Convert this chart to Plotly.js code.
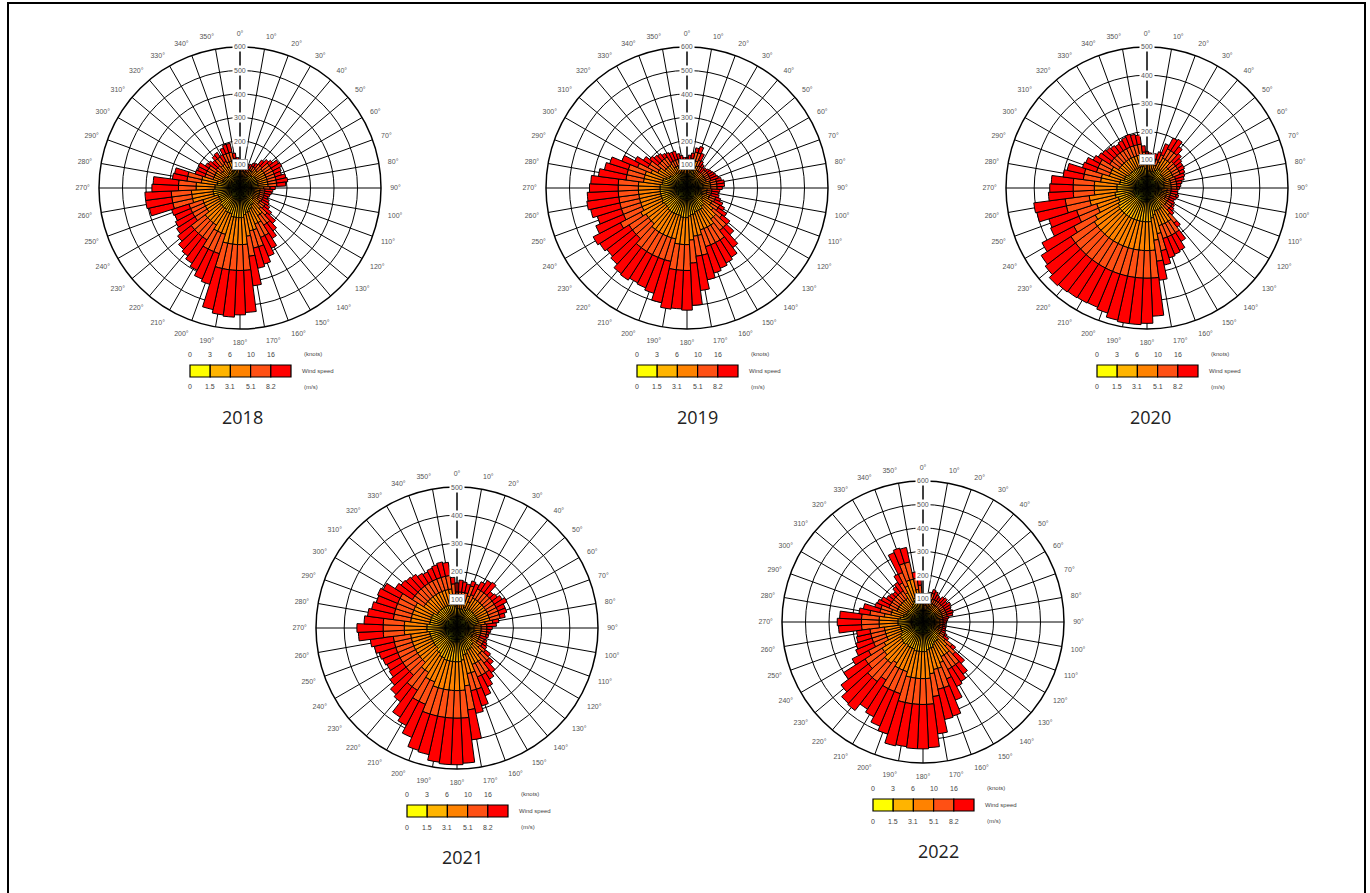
<!DOCTYPE html>
<html>
<head>
<meta charset="utf-8">
<script src="https://cdn.plot.ly/plotly-3.0.1.min.js"></script>
<style>html,body{margin:0;padding:0;background:#fff;}#chart{width:1370px;height:893px;}</style>
</head>
<body>
<div id="chart"></div>
<script>
// ---------------- DATA ----------------
const dirs = [0,5,10,15,20,25,30,35,40,45,50,55,
  60,65,70,75,80,85,90,95,100,105,110,115,
  120,125,130,135,140,145,150,155,160,165,170,175,
  180,185,190,195,200,205,210,215,220,225,230,235,
  240,245,250,255,260,265,270,275,280,285,290,295,
  300,305,310,315,320,325,330,335,340,345,350,355];

const angleTicks = [0,10,20,30,40,50,60,70,80,90,100,110,120,130,140,150,160,170,180,190,200,210,220,230,240,250,260,270,280,290,300,310,320,330,340,350];
const angleLabels = ['0°','10°','20°','30°','40°','50°','60°','70°','80°','90°','100°','110°','120°','130°','140°','150°','160°','170°','180°','190°','200°','210°','220°','230°','240°','250°','260°','270°','280°','290°','300°','310°','320°','330°','340°','350°'];

const years = ['2018','2019','2020','2021','2022'];
const radialMax = [600,600,500,500,600];
const knotsLabels = ['0','3','6','10','16'];
const msLabels = ['0','1.5','3.1','5.1','8.2'];
const speedClasses = ['0-1.5 m/s','1.5-3.1 m/s','3.1-5.1 m/s','5.1-8.2 m/s','>8.2 m/s'];

// 2018
const yellow2018 = [28,28,28,28,28,28,33,33,36,36,39,39,
  39,39,39,39,39,39,36,33,33,33,33,33,
  33,36,36,39,41,41,44,44,47,47,50,50,
  50,50,50,50,50,50,50,47,47,47,47,44,
  44,44,44,50,50,50,47,47,44,44,39,39,
  39,39,36,36,39,39,36,39,39,39,36,33];
const gold2018 = [24,24,24,24,24,24,28,28,33,33,39,39,
  39,39,39,39,39,39,33,28,28,28,28,28,
  28,33,33,39,45,45,54,54,60,60,65,76,
  76,76,76,76,65,65,65,60,60,60,60,54,
  54,54,54,65,65,65,60,60,54,54,39,39,
  39,39,33,33,39,39,33,39,39,39,33,28];
const orange2018 = [20,20,20,20,20,20,25,25,32,32,42,42,
  42,42,42,42,42,42,32,25,25,25,25,25,
  25,32,32,42,54,54,68,68,80,80,92,115,
  115,115,115,115,92,92,92,80,80,80,80,68,
  68,68,68,92,92,92,80,80,68,68,42,42,
  42,42,32,32,42,42,32,42,42,42,32,25];
const orangered2018 = [14,14,14,14,14,14,20,20,27,27,37,37,
  37,37,37,37,37,37,27,20,20,20,20,20,
  20,27,27,37,48,48,62,62,75,75,86,110,
  110,110,110,110,86,86,86,75,75,75,75,62,
  62,62,62,86,86,86,75,75,62,62,37,37,
  37,37,27,27,37,37,27,37,37,37,27,20];
const red2018 = [24,9,4,14,19,24,14,19,22,37,18,38,
  43,33,28,43,48,38,22,34,29,24,19,29,
  34,22,42,48,42,67,62,87,78,88,127,179,
  189,199,194,179,137,127,102,118,103,93,73,92,
  82,72,77,102,112,112,113,108,62,57,43,38,
  43,18,42,32,18,23,32,28,38,38,22,24];

// 2019
const yellow2019 = [33,33,36,39,39,36,33,33,28,33,33,33,
  33,33,33,36,36,36,36,33,33,33,36,36,
  39,39,41,44,44,47,47,47,47,50,50,50,
  50,50,50,50,50,50,50,50,50,50,50,50,
  50,50,50,50,50,50,50,50,47,47,47,44,
  41,41,39,39,39,39,36,36,36,36,33,33];
const gold2019 = [28,28,33,39,39,33,28,28,24,28,28,28,
  28,28,28,33,33,33,33,28,28,28,33,33,
  39,39,45,54,54,60,60,60,60,65,65,70,
  76,76,76,70,70,70,70,70,70,65,65,65,
  70,65,65,65,65,65,65,65,60,60,60,54,
  45,45,39,39,39,39,33,33,33,33,28,28];
const orange2019 = [25,25,32,42,42,32,25,25,20,25,25,25,
  25,25,25,32,32,32,32,25,25,25,32,32,
  42,42,54,68,68,80,80,80,80,92,92,102,
  115,115,115,102,102,102,102,102,102,92,92,92,
  102,92,92,92,92,92,92,92,80,80,80,68,
  54,54,42,42,42,42,32,32,32,32,25,25];
const orangered2019 = [20,20,27,37,37,27,20,20,14,20,20,20,
  20,20,20,27,27,27,27,20,20,20,27,27,
  37,37,48,62,62,75,75,75,75,86,86,98,
  110,110,110,98,98,98,98,98,98,86,86,86,
  98,86,86,86,86,86,86,86,75,75,75,62,
  48,48,37,37,37,37,27,27,27,27,20,20];
const red2019 = [24,34,22,18,28,32,24,14,24,9,14,19,
  24,29,34,22,32,32,22,34,29,34,22,37,
  23,43,42,42,92,88,98,108,118,107,147,180,
  169,164,169,180,150,140,135,145,140,147,137,147,
  130,127,107,127,137,132,122,117,118,98,83,72,
  62,32,43,33,28,18,42,37,37,22,34,24];

// 2020
const yellow2020 = [33,33,33,33,33,36,39,39,39,36,36,36,
  36,36,33,33,33,33,33,28,28,33,28,28,
  28,33,33,33,39,41,41,41,41,44,47,50,
  50,50,50,50,50,50,50,50,50,50,50,50,
  50,47,47,50,50,47,47,47,44,44,41,41,
  41,39,39,39,39,39,39,39,39,39,39,36];
const gold2020 = [28,28,28,28,28,33,39,39,39,33,33,33,
  33,33,28,28,28,28,28,24,24,28,24,24,
  24,28,28,28,39,45,45,45,45,54,60,70,
  70,70,70,70,70,70,70,70,70,70,70,70,
  65,60,60,65,65,60,60,60,54,54,45,45,
  45,39,39,39,39,39,39,39,39,39,39,33];
const orange2020 = [25,25,25,25,25,32,42,42,42,32,32,32,
  32,32,25,25,25,25,25,20,20,25,20,20,
  20,25,25,25,42,54,54,54,54,68,80,102,
  102,102,102,102,102,102,102,102,102,102,102,102,
  92,80,80,92,92,80,80,80,68,68,54,54,
  54,42,42,42,42,42,42,42,42,42,42,32];
const orangered2020 = [20,20,20,20,20,27,37,37,37,27,27,27,
  27,27,20,20,20,20,20,14,14,20,14,14,
  14,20,20,20,37,48,48,48,48,62,75,98,
  98,98,98,98,98,98,98,98,98,98,98,98,
  86,75,75,86,86,75,75,75,62,62,48,48,
  48,37,37,37,37,37,37,37,37,37,37,27];
const red2020 = [24,19,14,19,29,42,43,48,28,37,27,22,
  22,17,34,29,19,14,9,24,24,9,24,19,
  24,9,14,24,18,37,62,67,72,52,68,135,
  160,165,165,160,145,138,140,142,145,150,135,125,
  127,108,103,107,112,88,83,78,72,62,52,47,
  27,48,43,38,33,28,33,38,43,38,33,22];

// 2021
const yellow2021 = [36,36,36,36,39,36,39,39,39,39,39,39,
  39,39,39,39,36,33,33,33,33,33,28,33,
  33,33,36,39,39,41,41,41,44,44,50,50,
  50,50,50,50,50,50,50,47,47,44,44,44,
  44,44,44,44,44,47,47,47,44,44,44,44,
  44,41,41,41,41,41,41,41,41,41,41,39];
const gold2021 = [33,33,33,33,39,33,39,39,39,39,39,39,
  39,39,39,39,33,28,28,28,28,28,24,28,
  28,28,33,39,39,45,45,45,54,54,65,70,
  70,70,70,70,70,65,65,60,60,54,54,54,
  54,54,54,54,54,60,60,60,54,54,54,54,
  54,45,45,45,45,45,45,45,45,45,45,39];
const orange2021 = [32,32,32,32,42,32,42,42,42,42,42,42,
  42,42,42,42,32,25,25,25,25,25,20,25,
  25,25,32,42,42,54,54,54,68,68,92,102,
  102,102,102,102,102,92,92,80,80,68,68,68,
  68,68,68,68,68,80,80,80,68,68,68,68,
  68,54,54,54,54,54,54,54,54,54,54,42];
const orangered2021 = [27,27,27,27,37,27,37,37,37,37,37,37,
  37,37,37,37,27,20,20,20,20,20,14,20,
  20,20,27,37,37,48,48,48,62,62,86,98,
  98,98,98,98,98,86,86,75,75,62,62,62,
  62,62,62,62,62,75,75,75,62,62,62,62,
  62,48,48,48,48,48,48,48,48,48,48,37];
const red2021 = [32,42,37,32,18,42,28,43,48,18,23,33,
  43,28,28,18,22,34,19,14,9,9,24,9,
  14,19,22,18,43,27,47,72,62,82,107,160,
  165,165,160,140,135,127,97,113,68,92,72,57,
  52,57,62,72,82,88,93,68,92,82,72,77,
  67,72,62,57,52,42,37,42,47,52,47,23];

// 2022
const yellow2022 = [33,28,28,33,36,33,33,33,33,33,33,33,
  33,33,33,33,28,28,28,28,28,28,28,28,
  33,33,39,41,44,44,44,47,50,50,50,50,
  50,50,50,50,50,50,50,50,50,50,50,50,
  47,44,44,44,44,47,47,47,44,41,41,39,
  39,39,39,39,39,39,41,44,47,47,41,39];
const gold2022 = [28,24,24,28,33,28,28,28,28,28,28,28,
  28,28,28,28,24,24,24,24,24,24,24,24,
  28,28,39,45,54,54,54,60,65,65,70,76,
  76,76,76,76,70,70,70,65,70,70,65,65,
  60,54,54,54,54,60,60,60,54,45,45,39,
  39,39,39,39,39,39,45,54,60,60,45,39];
const orange2022 = [25,20,20,25,32,25,25,25,25,25,25,25,
  25,25,25,25,20,20,20,20,20,20,20,20,
  25,25,42,54,68,68,68,80,92,92,102,115,
  115,115,115,115,102,102,102,92,102,102,92,92,
  80,68,68,68,68,80,80,80,68,54,54,42,
  42,42,42,42,42,42,54,68,80,80,54,42];
const orangered2022 = [20,14,14,20,27,20,20,20,20,20,20,20,
  20,20,20,20,14,14,14,14,14,14,14,14,
  20,20,37,48,62,62,62,75,86,86,98,110,
  110,110,110,110,98,98,98,86,98,98,86,86,
  75,62,62,62,62,75,75,75,62,48,48,37,
  37,37,37,37,37,37,48,62,75,75,48,37];
const red2022 = [14,19,14,24,17,34,24,19,29,34,24,34,
  29,24,29,24,24,19,14,9,9,14,14,19,
  9,24,18,52,52,72,82,98,127,132,160,184,
  189,189,184,189,180,160,135,147,155,150,147,107,
  78,82,72,62,57,98,103,93,47,72,27,53,
  43,28,23,18,33,43,42,92,68,63,27,43];

const yearData = [
  [yellow2018, gold2018, orange2018, orangered2018, red2018],
  [yellow2019, gold2019, orange2019, orangered2019, red2019],
  [yellow2020, gold2020, orange2020, orangered2020, red2020],
  [yellow2021, gold2021, orange2021, orangered2021, red2021],
  [yellow2022, gold2022, orange2022, orangered2022, red2022]
];

// ---------------- STYLE / LAYOUT ----------------
const W = 1370, H = 893;
const colors = ['#ffff00', '#ffb400', '#ff8200', '#ff5014', '#ff0000'];
const centers = [[240,188],[687,188],[1147,188],[457,628],[923,622]]; // px
const yearLabelDx = [3,10,3,5,15];
const R = 141;
const FONT = 'Liberation Sans, Arial, sans-serif';
const X = px => px / W;
const Y = py => 1 - py / H;

const traces = [];
const layout = {
  width: W, height: H,
  margin: {l:0, r:0, t:0, b:0},
  paper_bgcolor: '#fff',
  showlegend: false,
  font: {family: FONT, color: '#444'},
  annotations: [],
  shapes: []
};

years.forEach((yr, i) => {
  const key = 'polar' + (i === 0 ? '' : (i + 1));
  const [cx, cy] = centers[i];
  yearData[i].forEach((series, j) => {
    traces.push({
      type: 'barpolar',
      subplot: key,
      r: series,
      theta: dirs,
      width: 5,
      name: speedClasses[j],
      marker: {color: colors[j], line: {color: '#000', width: 1}},
      hoverinfo: 'skip'
    });
  });
  const max = radialMax[i];
  const rticks = [];
  for (let v = 100; v <= max; v += 100) rticks.push(v);
  layout[key] = {
    domain: {x: [X(cx - R), X(cx + R)], y: [Y(cy + R), Y(cy - R)]},
    bgcolor: '#fff',
    barmode: 'stack',
    bargap: 0,
    angularaxis: {
      rotation: 90, direction: 'clockwise',
      tickmode: 'array', tickvals: angleTicks, ticktext: angleLabels,
      showgrid: true, gridcolor: '#000', gridwidth: 1,
      showline: true, linecolor: '#000', linewidth: 1.5,
      ticks: 'outside', ticklen: 7, tickcolor: 'rgba(0,0,0,0)',
      tickfont: {size: 7, color: '#555', family: FONT}
    },
    radialaxis: {
      range: [0, max], tickmode: 'array', tickvals: rticks,
      showticklabels: false, ticks: '',
      showgrid: true, gridcolor: '#000', gridwidth: 1,
      showline: true, linecolor: '#000', linewidth: 1,
      angle: 90
    }
  };
  // radial value labels along north axis
  rticks.forEach(v => {
    layout.annotations.push({
      xref: 'paper', yref: 'paper', x: X(cx), y: Y(cy - R * v / max),
      text: String(v), showarrow: false, xanchor: 'center', yanchor: 'middle',
      font: {size: 7, color: '#555', family: FONT},
      bgcolor: '#fff', borderpad: 1,
      bordercolor: v === 100 ? '#999' : 'rgba(0,0,0,0)', borderwidth: 1
    });
  });
  // legend colour bar
  const bw = 20.2, bx = cx - 50, by0 = cy + 177, by1 = cy + 189;
  colors.forEach((c, j) => {
    layout.shapes.push({
      type: 'rect', xref: 'paper', yref: 'paper',
      x0: X(bx + j * bw), x1: X(bx + (j + 1) * bw), y0: Y(by1), y1: Y(by0),
      fillcolor: c, line: {color: '#000', width: 1.2}
    });
    layout.annotations.push({
      xref: 'paper', yref: 'paper', x: X(bx + j * bw), y: Y(cy + 166),
      text: knotsLabels[j], showarrow: false, xanchor: 'center', yanchor: 'middle',
      font: {size: 7, color: '#444', family: FONT}
    });
    layout.annotations.push({
      xref: 'paper', yref: 'paper', x: X(bx + j * bw), y: Y(cy + 199),
      text: msLabels[j], showarrow: false, xanchor: 'center', yanchor: 'middle',
      font: {size: 7, color: '#444', family: FONT}
    });
  });
  layout.annotations.push({
    xref: 'paper', yref: 'paper', x: X(bx + 112), y: Y(cy + 166),
    text: '(knots)', showarrow: false, xanchor: 'left', yanchor: 'middle',
    font: {size: 6, color: '#444', family: FONT}
  });
  layout.annotations.push({
    xref: 'paper', yref: 'paper', x: X(bx + 112), y: Y(cy + 199),
    text: '(m/s)', showarrow: false, xanchor: 'left', yanchor: 'middle',
    font: {size: 6, color: '#444', family: FONT}
  });
  layout.annotations.push({
    xref: 'paper', yref: 'paper', x: X(bx + 110), y: Y(cy + 183),
    text: 'Wind speed', showarrow: false, xanchor: 'left', yanchor: 'middle',
    font: {size: 6, color: '#444', family: FONT}
  });
  // year label
  layout.annotations.push({
    xref: 'paper', yref: 'paper', x: X(cx + yearLabelDx[i]), y: Y(cy + 229),
    text: yr, showarrow: false, xanchor: 'center', yanchor: 'middle',
    font: {size: 18, color: '#222', family: 'Open Sans, Liberation Sans, sans-serif'}
  });
});

// outer frame
layout.shapes.push({
  type: 'rect', xref: 'paper', yref: 'paper',
  x0: X(8), x1: X(1365), y0: Y(905), y1: Y(3),
  line: {color: '#000', width: 2}, fillcolor: 'rgba(0,0,0,0)'
});

Plotly.newPlot('chart', traces, layout, {staticPlot: true, displayModeBar: false});
</script>
</body>
</html>
